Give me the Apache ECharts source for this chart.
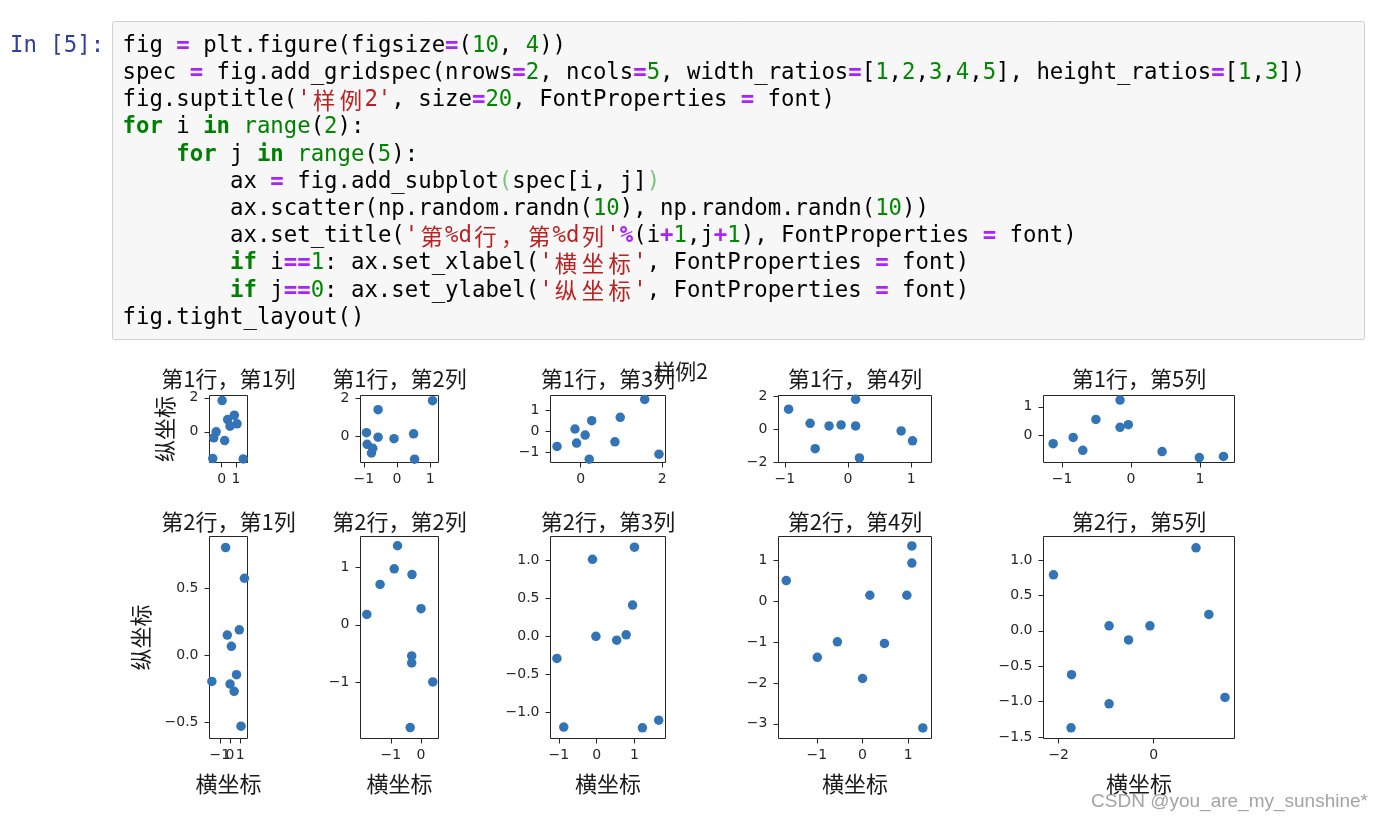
<!DOCTYPE html>
<html><head><meta charset="utf-8">
<script src="https://cdn.jsdelivr.net/npm/echarts@6/dist/echarts.min.js"></script>
<style>html,body{margin:0;padding:0;background:#fff}#main{width:1382px;height:822px}</style>
</head><body><div id="main"></div>
<script>
// ================= DATA =================
const suptitleText = '样例2';
const subplotTitles = [
  ['第1行，第1列', '第1行，第2列', '第1行，第3列', '第1行，第4列', '第1行，第5列'],
  ['第2行，第1列', '第2行，第2列', '第2行，第3列', '第2行，第4列', '第2行，第5列']
];
const xLabelText = '横坐标';
const yLabelText = '纵坐标';
const watermarkText = 'CSDN @you_are_my_sunshine*';

// row 1
const r1c1X = [0.03, -0.39, -0.56, 0.21, 0.42, 0.89, 1.08, 0.59, -0.63, 1.52];
const r1c1Y = [1.84, 0.00, -0.35, -0.51, 0.72, 0.98, 0.47, 0.33, -1.57, -1.59];
const r1c2X = [1.07, -0.57, -0.92, -0.57, -0.09, 0.50, -0.90, -0.73, -0.77, 0.53];
const r1c2Y = [1.86, 1.40, 0.21, -0.02, -0.10, 0.15, -0.39, -0.60, -0.84, -1.16];
const r1c3X = [1.57, -0.58, -0.14, -0.10, 0.11, 0.27, 0.21, 0.84, 0.97, 1.92];
const r1c3Y = [1.53, -0.71, 0.12, -0.55, -0.17, 0.52, -1.32, -0.49, 0.68, -1.08];
const r1c4X = [-0.94, -0.60, -0.52, -0.30, -0.11, 0.12, 0.12, 0.18, 0.84, 1.02];
const r1c4Y = [1.22, 0.36, -1.18, 0.20, 0.26, 1.82, 0.20, -1.74, -0.10, -0.70];
const r1c5X = [-1.13, -0.84, -0.70, -0.51, -0.16, -0.16, -0.04, 0.45, 0.99, 1.34];
const r1c5Y = [-0.28, -0.06, -0.51, 0.56, 1.23, 0.29, 0.38, -0.55, -0.76, -0.72];
// row 2
const r2c1X = [-0.43, 1.40, -0.27, 0.90, 0.13, -1.77, 0.63, 0.00, 0.40, 1.07];
const r2c1Y = [0.807, 0.578, 0.153, 0.192, 0.069, -0.193, -0.143, -0.213, -0.267, -0.528];
const r2c2X = [-0.78, -0.89, -1.36, -0.30, -1.80, 0.00, -0.31, -0.31, 0.39, -0.36];
const r2c2Y = [1.37, 0.97, 0.70, 0.87, 0.18, 0.28, -0.54, -0.66, -0.99, -1.78];
const r2c3X = [-1.05, -0.87, -0.11, -0.02, 0.53, 0.78, 0.95, 1.00, 1.21, 1.64];
const r2c3Y = [-0.29, -1.19, 1.01, 0.00, -0.05, 0.02, 0.41, 1.17, -1.20, -1.10];
const r2c4X = [-1.67, -0.99, -0.55, 0.00, 0.16, 0.48, 1.08, 1.08, 0.97, 1.32];
const r2c4Y = [0.51, -1.37, -0.99, -1.89, 0.15, -1.03, 1.36, 0.94, 0.15, -3.10];
const r2c5X = [-2.11, -1.73, -1.74, -0.94, -0.94, -0.53, -0.08, 0.89, 1.16, 1.50];
const r2c5Y = [0.79, -0.62, -1.37, 0.07, -1.03, -0.13, 0.07, 1.17, 0.23, -0.94];

// axis limits
const r1c1XLim = [-0.86, 1.82];  const r1c1YLim = [-1.80, 2.135];
const r1c2XLim = [-1.10, 1.25];  const r1c2YLim = [-1.33, 2.13];
const r1c3XLim = [-0.74, 2.08];  const r1c3YLim = [-1.48, 1.72];
const r1c4XLim = [-1.10, 1.32];  const r1c4YLim = [-2.02, 2.05];
const r1c5XLim = [-1.27, 1.50];  const r1c5YLim = [-0.93, 1.39];
const r2c1XLim = [-2.00, 1.70];  const r2c1YLim = [-0.62, 0.89];
const r2c2XLim = [-2.01, 0.58];  const r2c2YLim = [-1.97, 1.53];
const r2c3XLim = [-1.22, 1.82];  const r2c3YLim = [-1.34, 1.31];
const r2c4XLim = [-1.84, 1.51];  const r2c4YLim = [-3.36, 1.59];
const r2c5XLim = [-2.32, 1.70];  const r2c5YLim = [-1.52, 1.33];

// tick values and tick labels
const r1c1XTicks = [0, 1];            const r1c1XTickLabels = ['0', '1'];
const r1c1YTicks = [0, 2];            const r1c1YTickLabels = ['0', '2'];
const r1c2XTicks = [-1, 0, 1];        const r1c2XTickLabels = ['−1', '0', '1'];
const r1c2YTicks = [0, 2];            const r1c2YTickLabels = ['0', '2'];
const r1c3XTicks = [0, 2];            const r1c3XTickLabels = ['0', '2'];
const r1c3YTicks = [-1, 0, 1];        const r1c3YTickLabels = ['−1', '0', '1'];
const r1c4XTicks = [-1, 0, 1];        const r1c4XTickLabels = ['−1', '0', '1'];
const r1c4YTicks = [-2, 0, 2];        const r1c4YTickLabels = ['−2', '0', '2'];
const r1c5XTicks = [-1, 0, 1];        const r1c5XTickLabels = ['−1', '0', '1'];
const r1c5YTicks = [0, 1];            const r1c5YTickLabels = ['0', '1'];
const r2c1XTicks = [-1, 0, 1];        const r2c1XTickLabels = ['−1', '0', '1'];
const r2c1YTicks = [-0.5, 0, 0.5];    const r2c1YTickLabels = ['−0.5', '0.0', '0.5'];
const r2c2XTicks = [-1, 0];           const r2c2XTickLabels = ['−1', '0'];
const r2c2YTicks = [-1, 0, 1];        const r2c2YTickLabels = ['−1', '0', '1'];
const r2c3XTicks = [-1, 0, 1];        const r2c3XTickLabels = ['−1', '0', '1'];
const r2c3YTicks = [-1, -0.5, 0, 0.5, 1];  const r2c3YTickLabels = ['−1.0', '−0.5', '0.0', '0.5', '1.0'];
const r2c4XTicks = [-1, 0, 1];        const r2c4XTickLabels = ['−1', '0', '1'];
const r2c4YTicks = [-3, -2, -1, 0, 1];     const r2c4YTickLabels = ['−3', '−2', '−1', '0', '1'];
const r2c5XTicks = [-2, 0];           const r2c5XTickLabels = ['−2', '0'];
const r2c5YTicks = [-1.5, -1, -0.5, 0, 0.5, 1];  const r2c5YTickLabels = ['−1.5', '−1.0', '−0.5', '0.0', '0.5', '1.0'];

// code cell content: [style, text]
const promptText = 'In [5]:';
const codeLines = [
  [['n','fig '],['o','='],['n',' plt.figure(figsize'],['o','='],['n','('],['d','10'],['n',', '],['d','4'],['n','))']],
  [['n','spec '],['o','='],['n',' fig.add_gridspec(nrows'],['o','='],['d','2'],['n',', ncols'],['o','='],['d','5'],['n',', width_ratios'],['o','='],['n','['],['d','1'],['n',','],['d','2'],['n',','],['d','3'],['n',','],['d','4'],['n',','],['d','5'],['n','], height_ratios'],['o','='],['n','['],['d','1'],['n',','],['d','3'],['n','])']],
  [['n','fig.suptitle('],['s',"'样例2'"],['n',', size'],['o','='],['d','20'],['n',', FontProperties '],['o','='],['n',' font)']],
  [['k','for'],['n',' i '],['k','in'],['n',' '],['b','range'],['n','('],['d','2'],['n','):']],
  [['n','    '],['k','for'],['n',' j '],['k','in'],['n',' '],['b','range'],['n','('],['d','5'],['n','):']],
  [['n','        ax '],['o','='],['n',' fig.add_subplot'],['m','('],['n','spec[i, j]'],['m',')']],
  [['n','        ax.scatter(np.random.randn('],['d','10'],['n','), np.random.randn('],['d','10'],['n','))']],
  [['n','        ax.set_title('],['s',"'第%d行，第%d列'"],['o','%'],['n','(i'],['o','+'],['d','1'],['n',',j'],['o','+'],['d','1'],['n','), FontProperties '],['o','='],['n',' font)']],
  [['n','        '],['k','if'],['n',' i'],['o','=='],['d','1'],['n',': ax.set_xlabel('],['s',"'横坐标'"],['n',', FontProperties '],['o','='],['n',' font)']],
  [['n','        '],['k','if'],['n',' j'],['o','=='],['d','0'],['n',': ax.set_ylabel('],['s',"'纵坐标'"],['n',', FontProperties '],['o','='],['n',' font)']],
  [['n','fig.tight_layout()']]
];

// ================= LAYOUT / STYLE =================
const colLeft = [209.5, 360.5, 550.5, 778.5, 1043.5];
const colWidth = [38, 78, 115, 153, 191];
const rowTop = [395.5, 536.5];
const rowHeight = [67, 202];
const INK = '#262626';
const DOT = '#3274b5';
const CJK = 'Noto Sans CJK SC';

const panels = [
  [r1c1X, r1c1Y, r1c1XLim, r1c1YLim, r1c1XTicks, r1c1XTickLabels, r1c1YTicks, r1c1YTickLabels],
  [r1c2X, r1c2Y, r1c2XLim, r1c2YLim, r1c2XTicks, r1c2XTickLabels, r1c2YTicks, r1c2YTickLabels],
  [r1c3X, r1c3Y, r1c3XLim, r1c3YLim, r1c3XTicks, r1c3XTickLabels, r1c3YTicks, r1c3YTickLabels],
  [r1c4X, r1c4Y, r1c4XLim, r1c4YLim, r1c4XTicks, r1c4XTickLabels, r1c4YTicks, r1c4YTickLabels],
  [r1c5X, r1c5Y, r1c5XLim, r1c5YLim, r1c5XTicks, r1c5XTickLabels, r1c5YTicks, r1c5YTickLabels],
  [r2c1X, r2c1Y, r2c1XLim, r2c1YLim, r2c1XTicks, r2c1XTickLabels, r2c1YTicks, r2c1YTickLabels],
  [r2c2X, r2c2Y, r2c2XLim, r2c2YLim, r2c2XTicks, r2c2XTickLabels, r2c2YTicks, r2c2YTickLabels],
  [r2c3X, r2c3Y, r2c3XLim, r2c3YLim, r2c3XTicks, r2c3XTickLabels, r2c3YTicks, r2c3YTickLabels],
  [r2c4X, r2c4Y, r2c4XLim, r2c4YLim, r2c4XTicks, r2c4XTickLabels, r2c4YTicks, r2c4YTickLabels],
  [r2c5X, r2c5Y, r2c5XLim, r2c5YLim, r2c5XTicks, r2c5XTickLabels, r2c5YTicks, r2c5YTickLabels]
];

function fmt(ticks, labels) {
  return function (v) {
    const i = ticks.findIndex(t => Math.abs(t - v) < 1e-6);
    return i < 0 ? '' : labels[i];
  };
}

const grids = [], xAxes = [], yAxes = [], series = [], elements = [];
const labelBase = { color: INK, fontSize: 14, fontFamily: 'DejaVu Sans', hideOverlap: false,
                    showMinLabel: true, showMaxLabel: true, interval: 0 };

panels.forEach((p, gi) => {
  const row = Math.floor(gi / 5), col = gi % 5;
  const [xs, ys, xl, yl, xt, xtl, yt, ytl] = p;
  grids.push({
    left: colLeft[col], top: rowTop[row], width: colWidth[col], height: rowHeight[row],
    show: true, borderColor: INK, borderWidth: 1, backgroundColor: 'transparent',
    containLabel: false, outerBoundsMode: 'none'
  });
  // x tick labels are split over two coincident axes (alternate ticks), so that
  // closely spaced labels (e.g. "−101") are all kept, as matplotlib does.
  const evenT = xt.filter((_, k) => k % 2 === 0);
  const oddT = xt.filter((_, k) => k % 2 === 1);
  const mainX = xAxes.length;
  xAxes.push({
    type: 'value', gridIndex: gi, min: xl[0], max: xl[1], position: 'bottom',
    axisLine: { show: false, onZero: false }, splitLine: { show: false },
    axisTick: { show: true, inside: false, length: 5, interval: 0, customValues: xt, lineStyle: { color: INK, width: 1 } },
    axisLabel: Object.assign({ show: true, customValues: evenT, formatter: fmt(xt, xtl), margin: 10 }, labelBase),
    name: row === 1 ? xLabelText : '', nameLocation: 'middle', nameGap: 34,
    nameTextStyle: { fontFamily: CJK, fontSize: 22, color: '#1a1a1a' }
  });
  if (oddT.length) {
    xAxes.push({
      type: 'value', gridIndex: gi, min: xl[0], max: xl[1], position: 'bottom', offset: 0,
      axisLine: { show: false, onZero: false }, splitLine: { show: false },
      axisTick: { show: false },
      axisLabel: Object.assign({ show: true, customValues: oddT, formatter: fmt(xt, xtl), margin: 10 }, labelBase)
    });
  }
  yAxes.push({
    type: 'value', gridIndex: gi, min: yl[0], max: yl[1], position: 'left',
    axisLine: { show: false, onZero: false }, splitLine: { show: false },
    axisTick: { show: true, inside: false, length: 5, interval: 0, customValues: yt, lineStyle: { color: INK, width: 1 } },
    axisLabel: Object.assign({ show: true, customValues: yt, formatter: fmt(yt, ytl), margin: 11 }, labelBase),
    name: col === 0 ? yLabelText : '', nameLocation: 'middle', nameRotate: 90,
    nameGap: row === 0 ? 34 : 58,
    nameTextStyle: { fontFamily: CJK, fontSize: 22, color: '#1a1a1a' }
  });
  series.push({
    type: 'scatter', xAxisIndex: mainX, yAxisIndex: gi,
    data: xs.map((x, k) => [x, ys[k]]),
    symbol: 'circle', symbolSize: 9.5,
    itemStyle: { color: DOT, opacity: 1 },
    silent: true
  });
  // subplot title
  elements.push({
    type: 'text', x: colLeft[col] + colWidth[col] / 2, y: row === 0 ? 378.5 : 521.5,
    style: { text: subplotTitles[row][col], fontFamily: CJK, fontSize: 22, fill: '#1a1a1a',
             align: 'center', verticalAlign: 'middle', textAlign: 'center', textVerticalAlign: 'middle' }
  });
});

// suptitle
elements.push({
  type: 'text', x: 681, y: 371.5, z: 10,
  style: { text: suptitleText, fontFamily: CJK, fontSize: 21, fill: '#1a1a1a',
           align: 'center', verticalAlign: 'middle', textAlign: 'center', textVerticalAlign: 'middle' }
});

// watermark
elements.push({
  type: 'text', x: 1368, y: 802,
  style: { text: watermarkText, fontFamily: 'Liberation Sans', fontSize: 19, fill: '#a3a3a3',
           align: 'right', verticalAlign: 'middle', textAlign: 'right', textVerticalAlign: 'middle' }
});

// code cell
const CW = 13.44, X0 = 122.5, Y0 = 46, LH = 27.2, FS = 22.33;
const codeStyles = {
  n: { fill: '#000000', fontWeight: 'normal' },
  k: { fill: '#008000', fontWeight: 'bold' },
  o: { fill: '#AA22FF', fontWeight: 'bold' },
  d: { fill: '#008800', fontWeight: 'normal' },
  s: { fill: '#BA2121', fontWeight: 'normal' },
  b: { fill: '#008000', fontWeight: 'normal' },
  m: { fill: '#7cc47c', fontWeight: 'normal' }
};
const codeEls = [];
codeEls.push({
  type: 'rect', shape: { x: 112.5, y: 21.5, width: 1252, height: 318, r: 2 },
  style: { fill: '#f7f7f7', stroke: '#cfcfcf', lineWidth: 1 }, z: 0
});
codeEls.push({
  type: 'text', x: 10, y: Y0, z: 1,
  style: { text: promptText, fontFamily: 'DejaVu Sans Mono', fontSize: FS, fill: '#303F9F',
           align: 'left', verticalAlign: 'middle', textAlign: 'left', textVerticalAlign: 'middle' }
});
const isCJK = ch => /[\u3000-\u9fff\uff00-\uffef]/.test(ch);
codeLines.forEach((tokens, li) => {
  const y = Y0 + li * LH;
  let col = 0;
  tokens.forEach(([st, txt]) => {
    const cs = codeStyles[st];
    let buf = '', bufCol = 0;
    const flush = () => {
      if (buf.trim().length) {
        codeEls.push({
          type: 'text', x: X0 + bufCol * CW, y: y, z: 1,
          style: { text: buf, fontFamily: 'DejaVu Sans Mono', fontSize: FS, fontWeight: cs.fontWeight, fill: cs.fill,
                   align: 'left', verticalAlign: 'middle', textAlign: 'left', textVerticalAlign: 'middle' }
        });
      }
      buf = '';
    };
    for (const ch of txt) {
      if (isCJK(ch)) {
        flush();
        codeEls.push({
          type: 'text', x: X0 + (col + 1) * CW, y: y, z: 1,
          style: { text: ch, fontFamily: CJK, fontSize: FS, fill: cs.fill,
                   align: 'center', verticalAlign: 'middle', textAlign: 'center', textVerticalAlign: 'middle' }
        });
        col += 2;
      } else {
        if (!buf) bufCol = col;
        buf += ch;
        col += 1;
      }
    }
    flush();
  });
});

const chart = echarts.init(document.getElementById('main'), null, { renderer: 'canvas' });
chart.setOption({
  animation: false,
  backgroundColor: '#ffffff',
  graphic: { elements: codeEls.concat(elements) },
  grid: grids,
  xAxis: xAxes,
  yAxis: yAxes,
  series: series
});
</script>
</body></html>
